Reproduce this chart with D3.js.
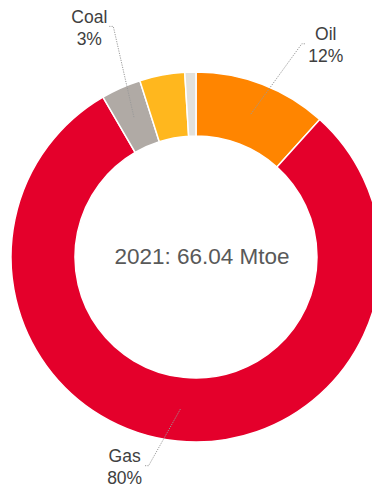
<!DOCTYPE html>
<html>
<head>
<meta charset="utf-8">
<script src="https://cdn.jsdelivr.net/npm/d3@7/dist/d3.min.js"></script>
<style>
  html, body { margin: 0; padding: 0; background: #fff; }
  svg { display: block; }
  text { font-family: "Liberation Sans", Arial, sans-serif; }
</style>
</head>
<body>
<svg id="chart" width="372" height="491"></svg>
<script>
// Primary energy mix, 2021 (Mtoe)
const categories = ["Oil", "Gas", "Coal", "Renewables", "Other"];
const values = [7.7, 52.8, 2.3, 2.6, 0.64];
const colors = ["#FF8500", "#E4002B", "#B0AAA5", "#FFB71E", "#E2E1DC"];
const labelled = ["Oil", "Gas", "Coal"];
const year = "2021";
const unit = "Mtoe";

// Callout geometry: elbow point (angle shift from slice middle, radius) and side of the text
const callouts = {
  Oil:  { turn: 5.4,  reach: 238, side: 1 },
  Gas:  { turn: 6.9,  reach: 214, side: -1 },
  Coal: { turn: 4.2,  reach: 245, side: -1 }
};

const svg = d3.select("#chart");
const cx = 196, cy = 257;
const outerR = 185, innerR = 121;

const total = d3.sum(values);
const data = categories.map((c, i) => ({ name: c, value: values[i], color: colors[i] }));

const pie = d3.pie().value(d => d.value).sort(null);
const arc = d3.arc().innerRadius(innerR).outerRadius(outerR);
const midArc = d3.arc().innerRadius((innerR + outerR) / 2).outerRadius((innerR + outerR) / 2);

const g = svg.append("g").attr("transform", `translate(${cx},${cy})`);
const arcs = pie(data);

g.selectAll("path.slice")
  .data(arcs)
  .join("path")
  .attr("class", "slice")
  .attr("d", arc)
  .attr("fill", d => d.data.color)
  .attr("stroke", "#fff")
  .attr("stroke-width", 1.5);

// Centre caption
g.append("text")
  .attr("x", 6)
  .attr("y", 7)
  .attr("text-anchor", "middle")
  .attr("fill", "#595959")
  .style("font-size", "22.5px")
  .text(`${year}: ${d3.format(".2f")(total)} ${unit}`);

// Callouts for the larger slices
const polar = (angleDeg, r) => {
  const a = angleDeg * Math.PI / 180;
  return [Math.sin(a) * r, -Math.cos(a) * r];
};

arcs.filter(d => labelled.includes(d.data.name)).forEach(d => {
  const cfg = callouts[d.data.name];
  const start = midArc.centroid(d);
  const midDeg = ((d.startAngle + d.endAngle) / 2) * 180 / Math.PI;
  const elbow = polar(midDeg + cfg.turn, cfg.reach);
  const tail = [elbow[0] + cfg.side * 4, elbow[1]];

  g.append("path")
    .attr("d", d3.line()([start, elbow, tail]))
    .attr("fill", "none")
    .attr("stroke", "#9a9a9a")
    .attr("stroke-width", 1)
    .attr("stroke-dasharray", "1.2,1.2");

  const pct = Math.round(d.data.value / total * 100) + "%";
  const t = g.append("text")
    .attr("text-anchor", "middle")
    .attr("fill", "#404040")
    .style("font-size", "17.5px");
  const tx = elbow[0] + cfg.side * 24;
  t.append("tspan").attr("x", tx).attr("y", elbow[1] - 3.5).text(d.data.name);
  t.append("tspan").attr("x", tx).attr("y", elbow[1] + 18.5).text(pct);
});
</script>
</body>
</html>
